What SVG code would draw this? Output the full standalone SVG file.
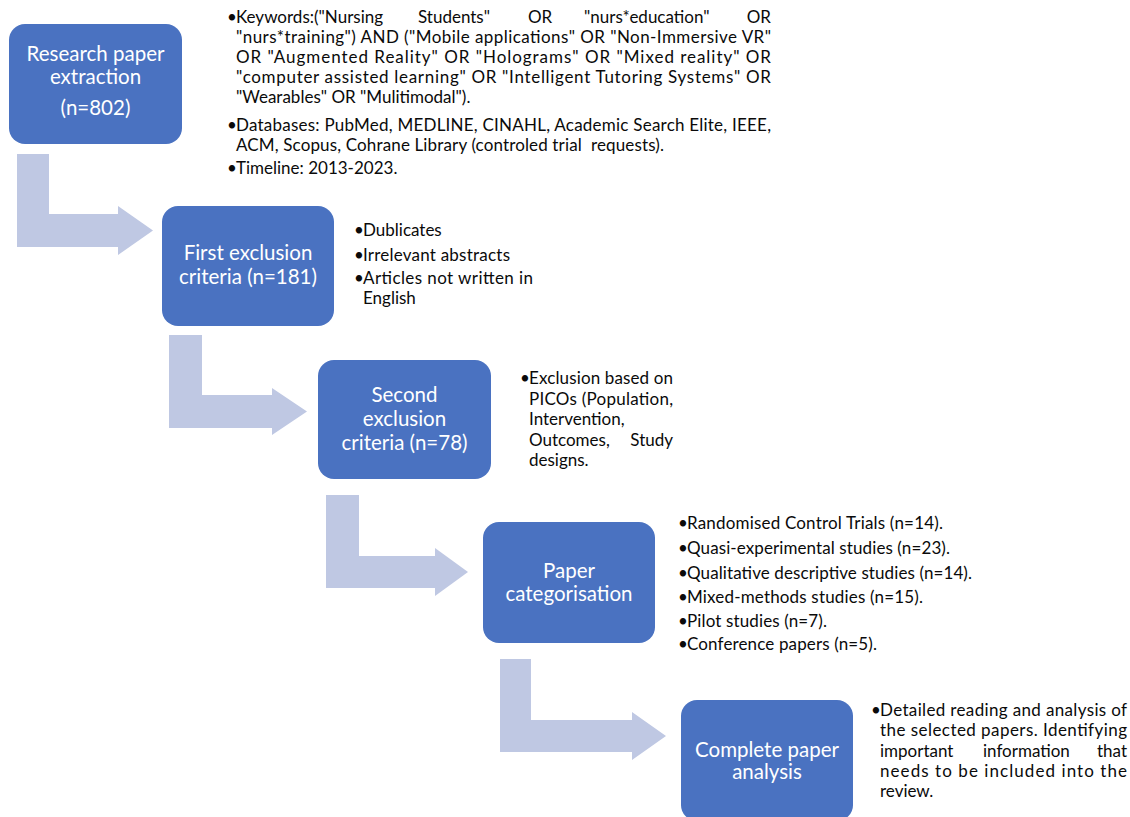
<svg xmlns="http://www.w3.org/2000/svg" width="1130" height="817" viewBox="0 0 1130 817">
<style>
.box{fill:#4A72C1}
.arr{fill:#BFC8E3}
.lbl{font-family:Lato,"Liberation Sans",sans-serif;font-size:20.5px;fill:#fff;text-anchor:middle}
.t{font-family:Lato,"Liberation Sans",sans-serif;font-size:17px;fill:#0a0a0a}
.e{text-anchor:end}
.pre{white-space:pre}
</style>
<rect width="1130" height="817" fill="#fff"/>
<g id="connectors">
<path class="arr" d="M17,154 H49 V214 H118 V206 L153,230.5 L118,255 V247 H17 Z"/>
<path class="arr" d="M169,335 H202 V395 H272 V388 L307,411.5 L272,435 V428 H169 Z"/>
<path class="arr" d="M326,495 H359 V556 H435 V548 L468,572 L435,596 V588 H326 Z"/>
<path class="arr" d="M500,659 H531 V720 H632 V712 L666,736 L632,760 V752 H500 Z"/>
</g>
<g id="node1">
<rect class="box" x="9" y="24" width="173" height="120" rx="16"/>
<text class="lbl" x="95.5" y="61">Research paper</text>
<text class="lbl" x="95.5" y="84">extraction</text>
<text class="lbl" x="95.5" y="115">(n=802)</text>
</g>
<g id="node2">
<rect class="box" x="162" y="206" width="172" height="120" rx="16"/>
<text class="lbl" x="248" y="260">First exclusion</text>
<text class="lbl" x="248" y="284">criteria (n=181)</text>
</g>
<g id="node3">
<rect class="box" x="318" y="360" width="173" height="119" rx="16"/>
<text class="lbl" x="404.5" y="402">Second</text>
<text class="lbl" x="404.5" y="426">exclusion</text>
<text class="lbl" x="404.5" y="450">criteria (n=78)</text>
</g>
<g id="node4">
<rect class="box" x="483" y="522" width="172" height="121" rx="16"/>
<text class="lbl" x="569" y="578">Paper</text>
<text class="lbl" x="569" y="601">categorisation</text>
</g>
<g id="node5">
<rect class="box" x="681" y="700" width="172" height="121" rx="16"/>
<text class="lbl" x="767" y="757">Complete paper</text>
<text class="lbl" x="767" y="779">analysis</text>
</g>
<g id="text1">
<text class="t" x="227" y="23">•</text>
<text class="t" x="236" y="23">Keywords:("Nursing</text>
<text class="t" x="418" y="23">Students"</text>
<text class="t" x="528" y="23">OR</text>
<text class="t" x="584" y="23">"nurs*education"</text>
<text class="t e" x="771" y="23">OR</text>
<text class="t" x="236" y="43" textLength="535" lengthAdjust="spacing">"nurs*training") AND ("Mobile applications" OR "Non-Immersive VR"</text>
<text class="t" x="236" y="63" textLength="535" lengthAdjust="spacing">OR "Augmented Reality" OR "Holograms" OR "Mixed reality" OR</text>
<text class="t" x="236" y="83" textLength="535" lengthAdjust="spacing">"computer assisted learning" OR "Intelligent Tutoring Systems" OR</text>
<text class="t" x="236" y="103">"Wearables" OR "Mulitimodal").</text>
<text class="t" x="227" y="131">•</text>
<text class="t" x="236" y="131" textLength="535" lengthAdjust="spacing">Databases: PubMed, MEDLINE, CINAHL, Academic Search Elite, IEEE,</text>
<text class="t pre" x="236" y="151" textLength="428" lengthAdjust="spacing">ACM, Scopus, Cohrane Library (controled trial  requests).</text>
<text class="t" x="227" y="174">•</text>
<text class="t" x="236" y="174">Timeline: 2013-2023.</text>
</g>
<g id="text2">
<text class="t" x="354" y="236">•</text>
<text class="t" x="363" y="236">Dublicates</text>
<text class="t" x="354" y="261">•</text>
<text class="t" x="363" y="261" textLength="147" lengthAdjust="spacing">Irrelevant abstracts</text>
<text class="t" x="354" y="284">•</text>
<text class="t" x="363" y="284" textLength="170" lengthAdjust="spacing">Articles not written in</text>
<text class="t" x="363" y="304">English</text>
</g>
<g id="text3">
<text class="t" x="520" y="384">•</text>
<text class="t" x="529" y="384" textLength="144" lengthAdjust="spacing">Exclusion based on</text>
<text class="t" x="529" y="405" textLength="144" lengthAdjust="spacing">PICOs (Population,</text>
<text class="t" x="529" y="425">Intervention,</text>
<text class="t" x="529" y="446">Outcomes,</text>
<text class="t e" x="673" y="446">Study</text>
<text class="t" x="529" y="466">designs.</text>
</g>
<g id="text4">
<text class="t" x="678" y="529">•</text>
<text class="t" x="687" y="529" textLength="256" lengthAdjust="spacing">Randomised Control Trials (n=14).</text>
<text class="t" x="678" y="554">•</text>
<text class="t" x="687" y="554" textLength="263" lengthAdjust="spacing">Quasi-experimental studies (n=23).</text>
<text class="t" x="678" y="579">•</text>
<text class="t" x="687" y="579" textLength="285" lengthAdjust="spacing">Qualitative descriptive studies (n=14).</text>
<text class="t" x="678" y="603">•</text>
<text class="t" x="687" y="603" textLength="236" lengthAdjust="spacing">Mixed-methods studies (n=15).</text>
<text class="t" x="678" y="627">•</text>
<text class="t" x="687" y="627" textLength="140" lengthAdjust="spacing">Pilot studies (n=7).</text>
<text class="t" x="678" y="650">•</text>
<text class="t" x="687" y="650" textLength="190" lengthAdjust="spacing">Conference papers (n=5).</text>
</g>
<g id="text5">
<text class="t" x="871" y="716">•</text>
<text class="t" x="880" y="716" textLength="247" lengthAdjust="spacing">Detailed reading and analysis of</text>
<text class="t" x="880" y="736" textLength="247" lengthAdjust="spacing">the selected papers. Identifying</text>
<text class="t" x="880" y="757">important</text>
<text class="t" x="983" y="757">information</text>
<text class="t e" x="1127" y="757">that</text>
<text class="t" x="880" y="777" textLength="247" lengthAdjust="spacing">needs to be included into the</text>
<text class="t" x="880" y="797">review.</text>
</g>
</svg>
